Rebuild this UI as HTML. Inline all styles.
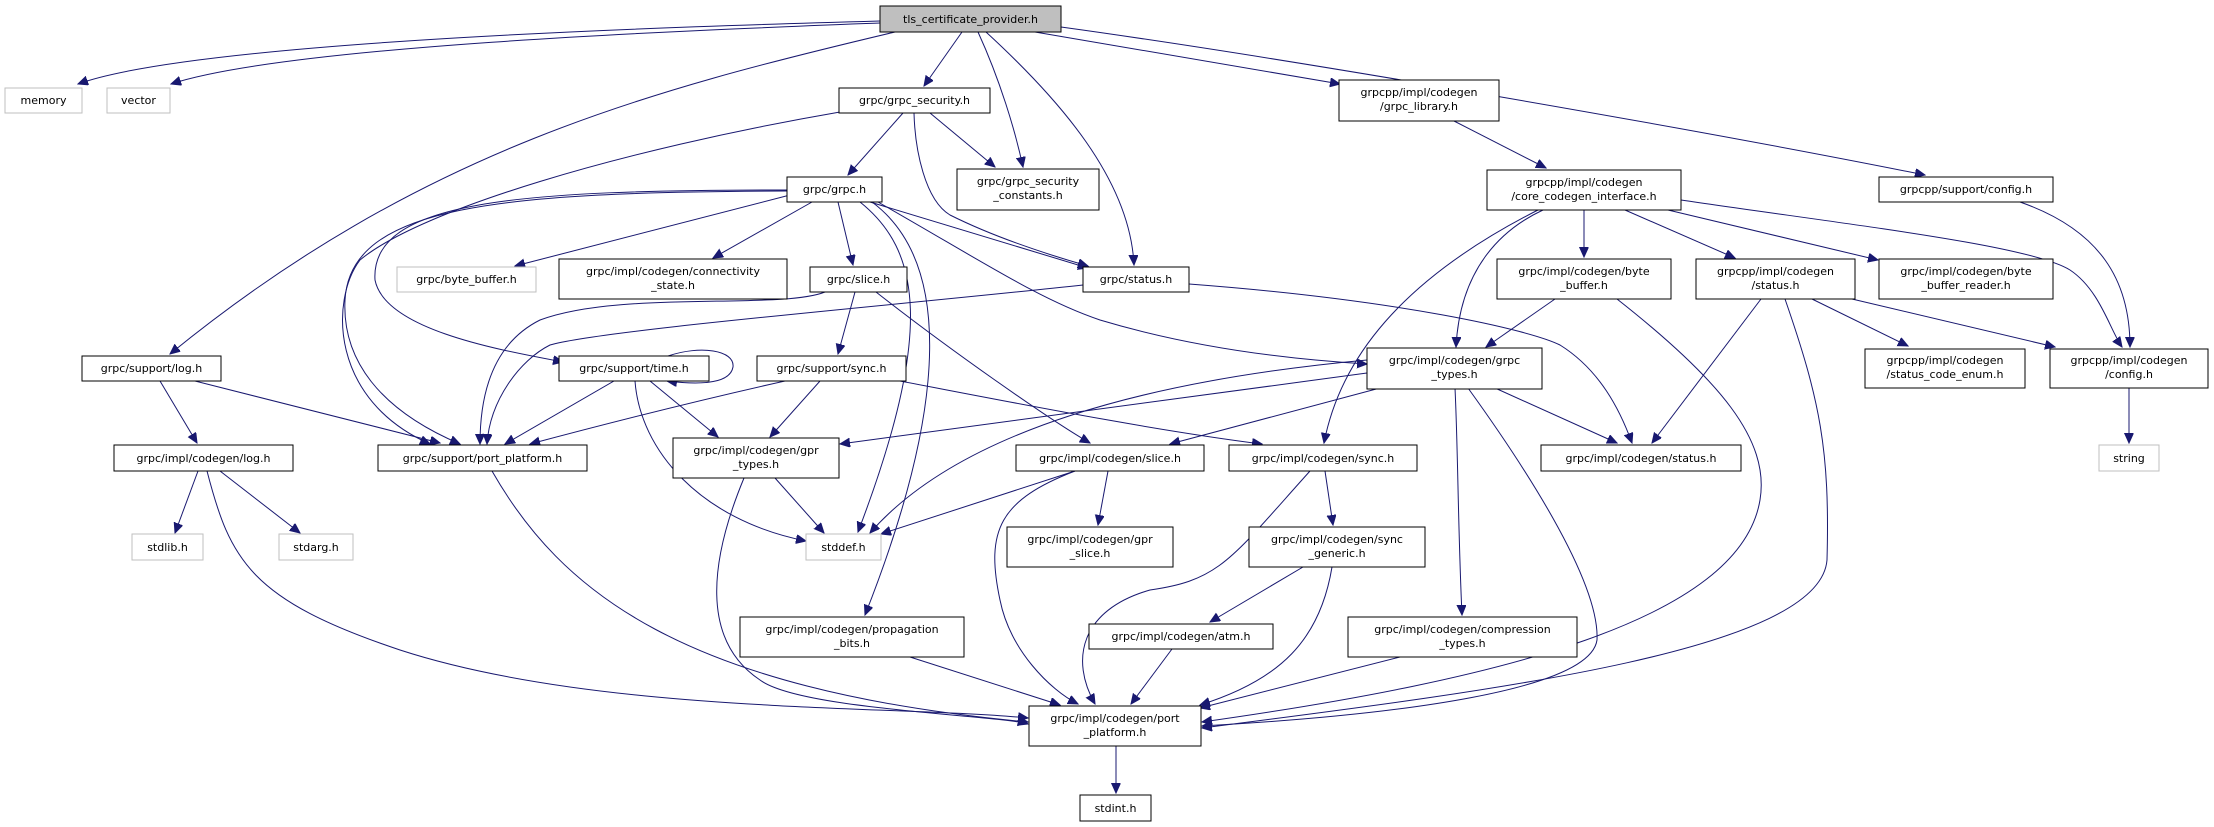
<!DOCTYPE html>
<html><head><meta charset="utf-8"><style>
html,body{margin:0;padding:0;background:#fff;}
svg{display:block;}
text{font-family:"DejaVu Sans","Liberation Sans",sans-serif;font-size:11px;fill:#000;}
.n{fill:#fff;stroke:#000;stroke-width:1;}
.g{fill:#fff;stroke:#bfbfbf;stroke-width:1;}
.r{fill:#bfbfbf;stroke:#000;stroke-width:1;}
.e{fill:none;stroke:#191970;stroke-width:1;marker-end:url(#a);}
</style></head><body>
<svg width="2214" height="827" viewBox="0 0 2214 827" xmlns="http://www.w3.org/2000/svg">
<defs><marker id="a" markerUnits="userSpaceOnUse" markerWidth="11" markerHeight="10" refX="10" refY="4.5" orient="auto"><path d="M0,0 L10,4.5 L0,9 Z" fill="#191970" stroke="#191970"/></marker></defs>
<!-- edges -->
<path class="e" d="M880,21 C700,26 200,40 78,84"/>
<path class="e" d="M880,23 C700,30 290,45 171,84"/>
<path class="e" d="M895,32 C650,90 420,150 170,354"/>
<path class="e" d="M962,32 L924,86"/>
<path class="e" d="M978,32 C1000,80 1015,130 1023,167"/>
<path class="e" d="M986,32 C1060,100 1130,180 1134,265"/>
<path class="e" d="M1035,32 L1340,84"/>
<path class="e" d="M1061,27 C1300,60 1700,130 1925,175"/>
<path class="e" d="M903,113 L848,175"/>
<path class="e" d="M930,113 L995,167"/>
<path class="e" d="M914,113 C915,150 925,200 950,215 C1000,240 1060,258 1088,266"/>
<path class="e" d="M840,112 C620,150 420,210 360,260 C330,300 330,400 430,444"/>
<path class="e" d="M790,195 L515,266"/>
<path class="e" d="M812,202 L713,258"/>
<path class="e" d="M838,202 L853,265"/>
<path class="e" d="M870,202 L1088,268"/>
<path class="e" d="M787,190 C520,190 370,200 375,280 C385,330 500,350 563,362"/>
<path class="e" d="M787,191 C500,192 350,205 345,300 C342,360 380,410 460,444"/>
<path class="e" d="M860,202 C920,250 935,330 858,532"/>
<path class="e" d="M872,202 C950,260 950,400 865,615"/>
<path class="e" d="M878,202 C980,260 1040,300 1100,320 C1200,350 1300,360 1367,364"/>
<path class="e" d="M855,292 L838,354"/>
<path class="e" d="M876,292 C950,350 1050,420 1090,443"/>
<path class="e" d="M825,292 C780,310 620,290 540,320 C490,345 480,400 480,444"/>
<path class="e" d="M1083,285 C900,305 600,330 550,345 C520,360 490,400 487,444"/>
<path class="e" d="M1189,284 C1400,300 1530,330 1560,345 C1600,370 1620,410 1632,443"/>
<path class="e" d="M668,356 C700,345 735,350 733,367 C730,384 700,385 667,381"/>
<path class="e" d="M614,381 L505,444"/>
<path class="e" d="M650,381 L718,437"/>
<path class="e" d="M635,381 C640,450 700,520 806,541"/>
<path class="e" d="M785,381 C700,400 620,420 530,444"/>
<path class="e" d="M820,381 L770,437"/>
<path class="e" d="M900,381 C1000,400 1150,430 1262,444"/>
<path class="e" d="M160,381 L197,443"/>
<path class="e" d="M195,381 L440,443"/>
<path class="e" d="M198,471 L175,533"/>
<path class="e" d="M220,471 L300,533"/>
<path class="e" d="M207,471 C230,560 250,600 400,650 C600,715 900,705 1028,718"/>
<path class="e" d="M492,471 C560,590 680,690 1028,722"/>
<path class="e" d="M744,478 C710,560 700,640 760,680 C800,710 1000,715 1028,724"/>
<path class="e" d="M775,478 L824,533"/>
<path class="e" d="M1367,373 L840,444"/>
<path class="e" d="M1367,360 C1150,380 960,430 870,533"/>
<path class="e" d="M1380,388 L1170,444"/>
<path class="e" d="M1495,388 L1617,443"/>
<path class="e" d="M1455,388 C1458,450 1458,530 1462,615"/>
<path class="e" d="M1468,388 C1520,460 1600,580 1597,640 C1590,690 1400,715 1202,726"/>
<path class="e" d="M1075,471 L881,534"/>
<path class="e" d="M1108,471 L1098,525"/>
<path class="e" d="M1075,471 C1000,500 985,530 1000,600 C1010,650 1050,690 1078,704"/>
<path class="e" d="M1325,471 L1333,525"/>
<path class="e" d="M1310,471 C1230,560 1220,580 1150,590 C1080,610 1070,660 1095,704"/>
<path class="e" d="M1303,567 L1210,622"/>
<path class="e" d="M1332,567 C1320,640 1280,680 1200,705"/>
<path class="e" d="M1172,649 L1131,704"/>
<path class="e" d="M910,657 L1060,705"/>
<path class="e" d="M1400,657 L1200,708"/>
<path class="e" d="M1116,746 L1116,793"/>
<path class="e" d="M1584,210 L1584,257"/>
<path class="e" d="M1625,210 L1735,258"/>
<path class="e" d="M1668,210 L1878,260"/>
<path class="e" d="M1681,200 C1850,225 2030,245 2070,270 C2100,290 2110,330 2122,347"/>
<path class="e" d="M1543,210 C1500,230 1460,270 1456,347"/>
<path class="e" d="M1538,210 C1400,280 1340,360 1324,443"/>
<path class="e" d="M1454,121 L1546,168"/>
<path class="e" d="M2020,202 C2100,230 2130,280 2130,347"/>
<path class="e" d="M1555,299 L1486,347"/>
<path class="e" d="M1617,299 C1720,380 1770,440 1760,500 C1740,620 1500,680 1202,722"/>
<path class="e" d="M1761,299 L1652,443"/>
<path class="e" d="M1812,299 L1908,346"/>
<path class="e" d="M1852,299 L2055,347"/>
<path class="e" d="M1785,299 C1820,400 1830,450 1827,560 C1820,650 1500,690 1202,728"/>
<path class="e" d="M2129,388 L2129,443"/>
<!-- nodes -->
<rect class="r" x="880" y="6" width="181" height="26"/><text x="970.5" y="23" text-anchor="middle">tls_certificate_provider.h</text>
<rect class="g" x="5" y="88" width="77" height="25"/><text x="43.5" y="104" text-anchor="middle">memory</text>
<rect class="g" x="107" y="88" width="63" height="25"/><text x="138.5" y="104" text-anchor="middle">vector</text>
<rect class="n" x="839" y="88" width="151" height="25"/><text x="914.5" y="104" text-anchor="middle">grpc/grpc_security.h</text>
<rect class="n" x="1339" y="80" width="160" height="41"/><text x="1419" y="96" text-anchor="middle">grpcpp/impl/codegen</text><text x="1419" y="110" text-anchor="middle">/grpc_library.h</text>
<rect class="n" x="787" y="177" width="95" height="25"/><text x="834.5" y="193" text-anchor="middle">grpc/grpc.h</text>
<rect class="n" x="957" y="169" width="142" height="41"/><text x="1028" y="185" text-anchor="middle">grpc/grpc_security</text><text x="1028" y="199" text-anchor="middle">_constants.h</text>
<rect class="n" x="1487" y="170" width="194" height="40"/><text x="1584" y="186" text-anchor="middle">grpcpp/impl/codegen</text><text x="1584" y="200" text-anchor="middle">/core_codegen_interface.h</text>
<rect class="n" x="1879" y="177" width="174" height="25"/><text x="1966" y="193" text-anchor="middle">grpcpp/support/config.h</text>
<rect class="g" x="397" y="267" width="139" height="25"/><text x="466.5" y="283" text-anchor="middle">grpc/byte_buffer.h</text>
<rect class="n" x="559" y="259" width="228" height="40"/><text x="673" y="275" text-anchor="middle">grpc/impl/codegen/connectivity</text><text x="673" y="289" text-anchor="middle">_state.h</text>
<rect class="n" x="810" y="267" width="97" height="25"/><text x="858.5" y="283" text-anchor="middle">grpc/slice.h</text>
<rect class="n" x="1083" y="267" width="106" height="25"/><text x="1136" y="283" text-anchor="middle">grpc/status.h</text>
<rect class="n" x="1497" y="259" width="174" height="40"/><text x="1584" y="275" text-anchor="middle">grpc/impl/codegen/byte</text><text x="1584" y="289" text-anchor="middle">_buffer.h</text>
<rect class="n" x="1696" y="259" width="159" height="40"/><text x="1775.5" y="275" text-anchor="middle">grpcpp/impl/codegen</text><text x="1775.5" y="289" text-anchor="middle">/status.h</text>
<rect class="n" x="1879" y="259" width="174" height="40"/><text x="1966" y="275" text-anchor="middle">grpc/impl/codegen/byte</text><text x="1966" y="289" text-anchor="middle">_buffer_reader.h</text>
<rect class="n" x="82" y="356" width="139" height="25"/><text x="151.5" y="372" text-anchor="middle">grpc/support/log.h</text>
<rect class="n" x="559" y="356" width="150" height="25"/><text x="634" y="372" text-anchor="middle">grpc/support/time.h</text>
<rect class="n" x="757" y="356" width="149" height="25"/><text x="831.5" y="372" text-anchor="middle">grpc/support/sync.h</text>
<rect class="n" x="1367" y="348" width="175" height="41"/><text x="1454.5" y="364" text-anchor="middle">grpc/impl/codegen/grpc</text><text x="1454.5" y="378" text-anchor="middle">_types.h</text>
<rect class="n" x="1865" y="349" width="160" height="39"/><text x="1945" y="364" text-anchor="middle">grpcpp/impl/codegen</text><text x="1945" y="378" text-anchor="middle">/status_code_enum.h</text>
<rect class="n" x="2050" y="349" width="158" height="39"/><text x="2129" y="364" text-anchor="middle">grpcpp/impl/codegen</text><text x="2129" y="378" text-anchor="middle">/config.h</text>
<rect class="n" x="114" y="445" width="179" height="26"/><text x="203.5" y="462" text-anchor="middle">grpc/impl/codegen/log.h</text>
<rect class="n" x="378" y="445" width="209" height="26"/><text x="482.5" y="462" text-anchor="middle">grpc/support/port_platform.h</text>
<rect class="n" x="673" y="438" width="166" height="40"/><text x="756" y="454" text-anchor="middle">grpc/impl/codegen/gpr</text><text x="756" y="468" text-anchor="middle">_types.h</text>
<rect class="n" x="1016" y="445" width="188" height="26"/><text x="1110" y="462" text-anchor="middle">grpc/impl/codegen/slice.h</text>
<rect class="n" x="1229" y="445" width="188" height="26"/><text x="1323" y="462" text-anchor="middle">grpc/impl/codegen/sync.h</text>
<rect class="n" x="1541" y="445" width="200" height="26"/><text x="1641" y="462" text-anchor="middle">grpc/impl/codegen/status.h</text>
<rect class="g" x="2099" y="445" width="60" height="26"/><text x="2129" y="462" text-anchor="middle">string</text>
<rect class="g" x="132" y="534" width="71" height="26"/><text x="167.5" y="551" text-anchor="middle">stdlib.h</text>
<rect class="g" x="279" y="534" width="74" height="26"/><text x="316" y="551" text-anchor="middle">stdarg.h</text>
<rect class="g" x="806" y="534" width="75" height="26"/><text x="843.5" y="551" text-anchor="middle">stddef.h</text>
<rect class="n" x="1007" y="527" width="166" height="40"/><text x="1090" y="543" text-anchor="middle">grpc/impl/codegen/gpr</text><text x="1090" y="557" text-anchor="middle">_slice.h</text>
<rect class="n" x="1249" y="527" width="176" height="40"/><text x="1337" y="543" text-anchor="middle">grpc/impl/codegen/sync</text><text x="1337" y="557" text-anchor="middle">_generic.h</text>
<rect class="n" x="740" y="617" width="224" height="40"/><text x="852" y="633" text-anchor="middle">grpc/impl/codegen/propagation</text><text x="852" y="647" text-anchor="middle">_bits.h</text>
<rect class="n" x="1089" y="624" width="184" height="25"/><text x="1181" y="640" text-anchor="middle">grpc/impl/codegen/atm.h</text>
<rect class="n" x="1348" y="617" width="229" height="40"/><text x="1462.5" y="633" text-anchor="middle">grpc/impl/codegen/compression</text><text x="1462.5" y="647" text-anchor="middle">_types.h</text>
<rect class="n" x="1029" y="706" width="172" height="40"/><text x="1115" y="722" text-anchor="middle">grpc/impl/codegen/port</text><text x="1115" y="736" text-anchor="middle">_platform.h</text>
<rect class="n" x="1080" y="795" width="71" height="26"/><text x="1115.5" y="812" text-anchor="middle">stdint.h</text>
</svg>
</body></html>
